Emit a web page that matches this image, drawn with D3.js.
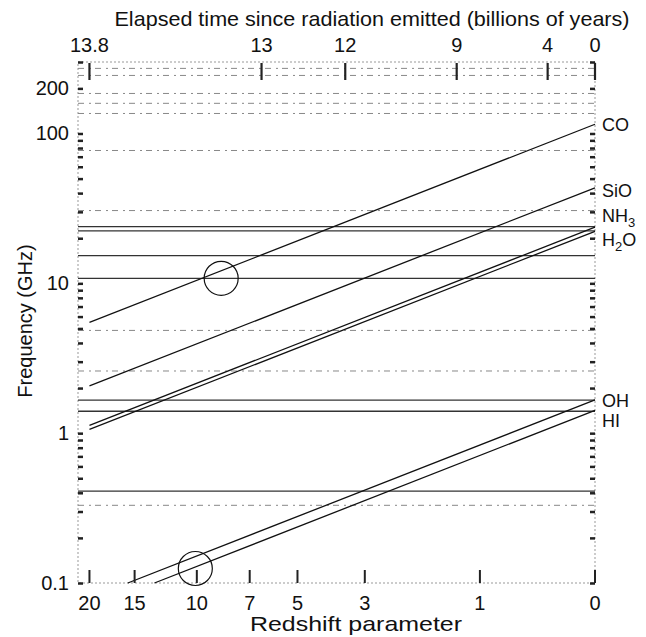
<!doctype html>
<html lang="en">
<head>
  <meta charset="UTF-8">
  <title>Redshifted spectral lines</title>
  <style type="text/css">
    body { margin: 0; background: #fff; }
    text { font-family: "Liberation Sans", Arial, sans-serif; fill: #111; }
  </style>
  <script src="https://cdn.jsdelivr.net/npm/d3@7"></script>
</head>
<body>
  <svg id="chart" width="646" height="637"></svg>
  <script>
    // rest frequencies (GHz) of the redshifted lines
    let species = ["CO", "SiO", "NH3", "H2O", "OH", "HI"]
    let restFreq = [115.27, 43.4, 23.69, 22.24, 1.667, 1.42]

    // horizontal lines (GHz)
    let strongLines = [23.9, 22.4, 15.3, 10.8, 1.66, 1.40, 0.41]
    let faintLines = [272, 244, 185, 159, 136, 77, 30.6, 4.85, 2.6, 0.33]

    // axes
    let redshiftTicks = [20, 15, 10, 7, 5, 3, 1, 0]
    let freqTicks = [0.1, 1, 10, 100, 200]
    let timeTicks = ["13.8", "13", "12", "9", "4", "0"]
    let timeTickZ = [20, 6.45, 3.5, 1.3, 0.33, 0]

    // circled points (redshift, GHz)
    let circles = [{ z: 8.5, f: 10.8 }, { z: 10.1, f: 0.125 }]

    let svg = d3.select('#chart')
    let pL = 78, pR = 595, pT = 62, pB = 583

    // x is log(1+z), reversed: z = 0 at the right
    let x = d3.scaleLog().domain([22.5, 1]).range([pL, pR])
    let y = d3.scaleLog().domain([0.1, 300]).range([pB, pT])
    let xz = function (z) { return x(1 + z) }

    // frame
    svg.append("rect")
      .attr("x", pL).attr("y", pT)
      .attr("width", pR - pL).attr("height", pB - pT)
      .attr("fill", "none")
      .attr("stroke", "#999")
      .attr("stroke-dasharray", "2,2")
      .attr("stroke-width", 1)

    // faint horizontal lines
    svg.selectAll(".faint")
      .data(faintLines)
      .enter().append("line")
      .attr("class", "faint")
      .attr("x1", pL).attr("x2", pR)
      .attr("y1", function (d) { return y(d) })
      .attr("y2", function (d) { return y(d) })
      .attr("stroke", "#888")
      .attr("stroke-width", 1)
      .attr("stroke-dasharray", "6,5,2,4")

    // strong horizontal lines
    svg.selectAll(".strong")
      .data(strongLines)
      .enter().append("line")
      .attr("class", "strong")
      .attr("x1", pL).attr("x2", pR)
      .attr("y1", function (d) { return y(d) })
      .attr("y2", function (d) { return y(d) })
      .attr("stroke", "#333")
      .attr("stroke-width", 1.3)

    // diagonal redshift lines, clipped at 0.1 GHz
    let lineGen = d3.line()
      .x(function (d) { return xz(d.z) })
      .y(function (d) { return y(d.f) })

    svg.selectAll(".zline")
      .data(restFreq)
      .enter().append("path")
      .attr("class", "zline")
      .attr("d", function (f0) {
        let zmax = Math.min(20, f0 / 0.1 - 1)
        return lineGen([{ z: zmax, f: f0 / (1 + zmax) }, { z: 0, f: f0 }])
      })
      .attr("fill", "none")
      .attr("stroke", "#111")
      .attr("stroke-width", 1.3)

    // species labels
    let offs = { "CO": 7, "SiO": 9, "NH3": -5, "H2O": 15, "OH": 7, "HI": 17 }
    svg.selectAll(".spec")
      .data(species)
      .enter().append("text")
      .attr("class", "spec")
      .attr("x", pR + 7)
      .attr("font-size", 18)
      .each(function (d, i) {
        let t = d3.select(this)
        t.attr("y", y(restFreq[i]) + offs[d])
        let m = d.match(/^([A-Za-z]+?)(\d)(.*)$/)
        if (m) {
          t.append("tspan").text(m[1])
          t.append("tspan").attr("dy", 5).attr("font-size", 13).text(m[2])
          t.append("tspan").attr("dy", -5).text(m[3])
        } else {
          t.text(d)
        }
      })

    // circles
    svg.selectAll(".mark")
      .data(circles)
      .enter().append("circle")
      .attr("class", "mark")
      .attr("cx", function (d) { return xz(d.z) })
      .attr("cy", function (d) { return y(d.f) })
      .attr("r", 17)
      .attr("fill", "none")
      .attr("stroke", "#111")
      .attr("stroke-width", 1.2)

    // left / right axes with minor ticks
    let minor = []
    for (let e = -1; e <= 2; e++) {
      for (let k = 1; k <= 9; k++) {
        let v = k * Math.pow(10, e)
        if (v <= 300) minor.push(v)
      }
    }
    let leftAxis = d3.axisRight(y).tickValues(minor).tickSize(5).tickFormat("")
    svg.append("g").attr("transform", "translate(" + pL + ",0)").call(leftAxis)
    let rightAxis = d3.axisLeft(y).tickValues(minor).tickSize(5).tickFormat("")
    svg.append("g").attr("transform", "translate(" + pR + ",0)").call(rightAxis)
    svg.selectAll(".domain").remove()
    svg.selectAll(".tick line").attr("stroke", "#222").attr("stroke-width", 2.5)

    svg.selectAll(".flab")
      .data(freqTicks)
      .enter().append("text")
      .attr("class", "flab")
      .attr("x", pL - 9)
      .attr("y", function (d) { return y(d) + 7 })
      .attr("text-anchor", "end")
      .attr("font-size", 20)
      .text(function (d) { return d })

    // bottom redshift ticks
    svg.selectAll(".ztick")
      .data(redshiftTicks)
      .enter().append("line")
      .attr("class", "ztick")
      .attr("x1", function (d) { return xz(d) })
      .attr("x2", function (d) { return xz(d) })
      .attr("y1", pB).attr("y2", pB - 13)
      .attr("stroke", "#222").attr("stroke-width", 2)

    svg.selectAll(".zlab")
      .data(redshiftTicks)
      .enter().append("text")
      .attr("class", "zlab")
      .attr("x", function (d) { return xz(d) })
      .attr("y", pB + 27)
      .attr("text-anchor", "middle")
      .attr("font-size", 20)
      .text(function (d) { return d })

    // top time ticks
    svg.selectAll(".ttick")
      .data(timeTickZ)
      .enter().append("line")
      .attr("class", "ttick")
      .attr("x1", function (d) { return xz(d) })
      .attr("x2", function (d) { return xz(d) })
      .attr("y1", pT + 1).attr("y2", pT + 18)
      .attr("stroke", "#222").attr("stroke-width", 2.2)

    svg.selectAll(".tlab")
      .data(timeTickZ)
      .enter().append("text")
      .attr("class", "tlab")
      .attr("x", function (d) { return xz(d) })
      .attr("y", pT - 10)
      .attr("text-anchor", "middle")
      .attr("font-size", 20)
      .text(function (d, i) { return timeTicks[i] })

    // axis titles
    svg.append("text")
      .attr("x", 372).attr("y", 26)
      .attr("text-anchor", "middle")
      .attr("font-size", 21)
      .attr("textLength", 515)
      .attr("lengthAdjust", "spacingAndGlyphs")
      .text("Elapsed time since radiation emitted (billions of years)")

    svg.append("text")
      .attr("x", 356).attr("y", 631)
      .attr("text-anchor", "middle")
      .attr("font-size", 21)
      .attr("textLength", 212)
      .attr("lengthAdjust", "spacingAndGlyphs")
      .text("Redshift  parameter")

    svg.append("text")
      .attr("transform", "translate(32," + 321 + ") rotate(-90)")
      .attr("text-anchor", "middle")
      .attr("font-size", 20)
      .text("Frequency (GHz)")
  </script>
</body>
</html>
